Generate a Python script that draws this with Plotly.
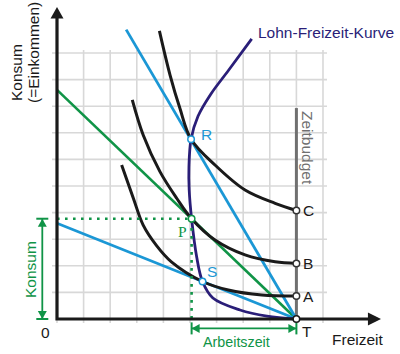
import plotly.graph_objects as go

# ---------------- data (in grid units) ----------------
T_X = 9.0                      # time budget (Freizeit max)
ZEITBUDGET_TOP = 7.93
GRID_N = 10

# budget lines: consumption = wage * (T - Freizeit)
wage_high, start_high = 1.70, 2.6
wage_mid, start_mid = 0.957, 0.0
wage_low, start_low = 0.40, 0.0

# indifference curves (Freizeit, Konsum)
ic_C_x = [3.85, 4.25, 4.62, 5.04, 5.94, 7.07, 8.20, 9.0]
ic_C_y = [10.83, 9.17, 7.92, 6.76, 5.79, 4.85, 4.35, 4.08]
ic_B_x = [2.83, 3.24, 3.87, 4.50, 5.06, 5.94, 7.07, 8.20, 9.0]
ic_B_y = [8.24, 6.92, 5.54, 4.54, 3.77, 2.97, 2.41, 2.15, 2.09]
ic_A_x = [2.43, 2.87, 3.24, 3.75, 4.30, 5.47, 6.44, 7.70, 9.0]
ic_A_y = [5.79, 4.54, 3.53, 2.75, 2.15, 1.41, 1.09, 0.90, 0.86]

# Lohn-Freizeit-Kurve
lfk_x = [9.0, 7.89, 6.88, 5.86, 5.47, 5.25, 5.06, 4.97, 4.96, 5.04, 5.30, 5.78, 6.45, 7.32]
lfk_y = [0.0, 0.11, 0.34, 0.79, 1.41, 2.34, 3.77, 4.85, 5.71, 6.76, 7.62, 8.45, 9.35, 10.53]

# points
R = (5.04, 6.76)
P = (5.06, 3.77)
S = (5.47, 1.41)
end_pts_y = [4.08, 2.09, 0.86]
end_labels = ["C", "B", "A"]

# ---------------- styling ----------------
UNIT = 26.6          # px per grid unit
OX, OY = 57.0, 319.0  # pixel position of origin
BLACK = "#1a1a1a"
BLUE = "#1b97d5"
GREEN = "#109447"
NAVY = "#2a1e78"
GRAY = "#707070"
GRID = "#d8d8d8"
FONT = "Liberation Sans, Arial, sans-serif"


def dx(px):
    return (px - OX) / UNIT


def dy(py):
    return (OY - py) / UNIT


def u(p):  # px length -> units
    return p / UNIT


fig = go.Figure()

# grid
for k in range(1, GRID_N + 1):
    fig.add_shape(type="line", x0=k, x1=k, y0=-u(4), y1=GRID_N + u(3),
                  line=dict(color=GRID, width=1.6), layer="below")
    fig.add_shape(type="line", x0=-u(5), x1=GRID_N + u(4), y0=k, y1=k,
                  line=dict(color=GRID, width=1.6), layer="below")
fig.add_shape(type="line", x0=0, x1=0, y0=-u(4), y1=0,
              line=dict(color=GRID, width=1.6), layer="below")

# Zeitbudget line
fig.add_trace(go.Scatter(x=[T_X, T_X], y=[0, ZEITBUDGET_TOP], mode="lines",
                         line=dict(color=GRAY, width=3)))

# budget lines
def budget(w, x0, color, width):
    xs = [x0, T_X]
    ys = [w * (T_X - x) for x in xs]
    fig.add_trace(go.Scatter(x=xs, y=ys, mode="lines", line=dict(color=color, width=width)))


budget(wage_mid, start_mid, GREEN, 2.6)
budget(wage_high, start_high, BLUE, 2.8)
budget(wage_low, start_low, BLUE, 2.8)

# indifference curves
for xs, ys in [(ic_C_x, ic_C_y), (ic_B_x, ic_B_y), (ic_A_x, ic_A_y)]:
    fig.add_trace(go.Scatter(x=xs, y=ys, mode="lines",
                             line=dict(color=BLACK, width=3, shape="spline", smoothing=1.0)))

# Lohn-Freizeit-Kurve
fig.add_trace(go.Scatter(x=lfk_x, y=lfk_y, mode="lines",
                         line=dict(color=NAVY, width=2.8, shape="spline", smoothing=1.0)))

# dotted helper lines through P
fig.add_trace(go.Scatter(x=[0, P[0], P[0]], y=[P[1], P[1], 0], mode="lines",
                         line=dict(color=GREEN, width=2.6, dash="2.6px,5.4px")))

# axes
fig.add_trace(go.Scatter(x=[0, 0, 11.75], y=[11.35, 0, 0], mode="lines",
                         line=dict(color=BLACK, width=3.2)))
fig.add_trace(go.Scatter(x=[-u(6.5), u(6.5), 0, -u(6.5)], y=[11.3, 11.3, dy(7), 11.3],
                         mode="lines", fill="toself", fillcolor=BLACK, line=dict(color=BLACK, width=0)))
fig.add_trace(go.Scatter(x=[11.69, 11.69, dx(381), 11.69], y=[-u(6.5), u(6.5), 0, -u(6.5)],
                         mode="lines", fill="toself", fillcolor=BLACK, line=dict(color=BLACK, width=0)))

# dimension arrows (green)
kx = dx(42.3)
ay = dy(328.4)
h = u(8)   # arrow head length
w = u(4.5)  # half width
bar = u(6)
fig.add_trace(go.Scatter(x=[kx, kx], y=[0, P[1]], mode="lines", line=dict(color=GREEN, width=1.8)))
fig.add_trace(go.Scatter(x=[kx - bar, kx + bar, None, kx - bar, kx + bar],
                         y=[P[1], P[1], None, 0, 0], mode="lines", line=dict(color=GREEN, width=2)))
fig.add_trace(go.Scatter(x=[kx - w, kx + w, kx, kx - w], y=[P[1] - h, P[1] - h, P[1], P[1] - h],
                         mode="lines", fill="toself", fillcolor=GREEN, line=dict(color=GREEN, width=0)))
fig.add_trace(go.Scatter(x=[kx - w, kx + w, kx, kx - w], y=[h, h, 0, h],
                         mode="lines", fill="toself", fillcolor=GREEN, line=dict(color=GREEN, width=0)))

fig.add_trace(go.Scatter(x=[P[0], T_X], y=[ay, ay], mode="lines", line=dict(color=GREEN, width=1.8)))
fig.add_trace(go.Scatter(x=[P[0], P[0], None, T_X, T_X],
                         y=[ay - bar, ay + bar, None, ay - bar, ay + bar], mode="lines",
                         line=dict(color=GREEN, width=2)))
fig.add_trace(go.Scatter(x=[P[0] + h, P[0] + h, P[0], P[0] + h], y=[ay - w, ay + w, ay, ay - w],
                         mode="lines", fill="toself", fillcolor=GREEN, line=dict(color=GREEN, width=0)))
fig.add_trace(go.Scatter(x=[T_X - h, T_X - h, T_X, T_X - h], y=[ay - w, ay + w, ay, ay - w],
                         mode="lines", fill="toself", fillcolor=GREEN, line=dict(color=GREEN, width=0)))

# point markers
def marker(xs, ys, color):
    fig.add_trace(go.Scatter(x=xs, y=ys, mode="markers",
                             marker=dict(size=6.5, color="white", line=dict(color=color, width=1.5))))


marker([R[0], S[0]], [R[1], S[1]], BLUE)
marker([P[0]], [P[1]], GREEN)
marker([T_X] * 3, end_pts_y, "#333333")
marker([T_X], [0], BLACK)

# ---------------- text ----------------
def label(text, px, py, color=BLACK, size=15.5, angle=0, family=FONT):
    fig.add_annotation(x=dx(px), y=dy(py), text=text, showarrow=False, textangle=angle,
                       font=dict(family=family, size=size, color=color),
                       xanchor="center", yanchor="middle")


label("Lohn-Freizeit-Kurve", 326, 32, NAVY)
label("Konsum", 16, 73, BLACK, angle=-90)
label("(=Einkommen)", 33, 53, BLACK, angle=-90)
label("Zeitbudget", 308, 148, GRAY, angle=90)
label("R", 206, 134, BLUE)
label("S", 212, 271, BLUE)
label("P", 182, 231, GREEN, family="Liberation Serif, Times New Roman, serif")
for lab, yv in zip(end_labels, end_pts_y):
    fig.add_annotation(x=T_X + u(12), y=yv, text=lab, showarrow=False,
                       font=dict(family=FONT, size=15.5, color=BLACK),
                       xanchor="center", yanchor="middle")
label("T", 307, 331)
label("0", 45, 332)
label("Freizeit", 358, 339)
label("Konsum", 30, 270, GREEN, angle=-90)
label("Arbeitszeit", 236, 342, GREEN, size=14.3)

fig.update_layout(
    width=400, height=354,
    margin=dict(l=0, r=0, t=0, b=0),
    paper_bgcolor="white", plot_bgcolor="white",
    showlegend=False,
    xaxis=dict(range=[dx(0), dx(400)], visible=False, fixedrange=True),
    yaxis=dict(range=[dy(354), dy(0)], visible=False, fixedrange=True),
)

fig.write_html("out.html")
